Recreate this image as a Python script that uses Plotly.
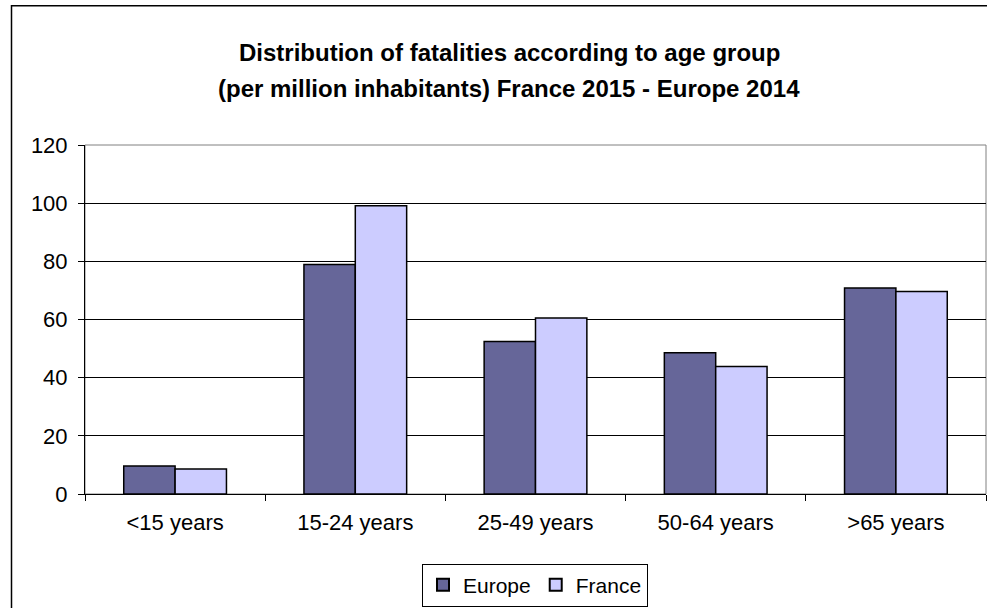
import plotly.graph_objects as go

# Fatalities per million inhabitants by age group
age_groups = ["<15 years", "15-24 years", "25-49 years", "50-64 years", ">65 years"]
europe_2014 = [9.6, 78.9, 52.4, 48.6, 70.8]
france_2015 = [8.6, 99.1, 60.5, 43.8, 69.6]
y_ticks = [0, 20, 40, 60, 80, 100, 120]

title_lines = [
    "Distribution of fatalities according to age group",
    "(per million inhabitants) France 2015 - Europe 2014",
]

W, H = 987, 608
ML, MR, MT, MB = 85, 1, 145, 112
PW, PH = W - ML - MR, H - MT - MB


def px_x(px):
    return (px - ML) / PW


def px_y(py):
    return (H - MB - py) / PH


FONT = "Arial, Liberation Sans, sans-serif"

fig = go.Figure()
fig.add_trace(go.Bar(
    x=age_groups, y=europe_2014, name="Europe",
    marker=dict(color="#666699", line=dict(color="#000000", width=1.5)),
))
fig.add_trace(go.Bar(
    x=age_groups, y=france_2015, name="France",
    marker=dict(color="#CCCCFF", line=dict(color="#000000", width=1.5)),
))

annotations = []
for line, py in zip(title_lines, [52, 88]):
    annotations.append(dict(
        text="<b>%s</b>" % line, x=px_x(509), y=px_y(py),
        xref="paper", yref="paper", xanchor="center", yanchor="middle",
        showarrow=False, font=dict(family=FONT, size=24, color="#000000"),
    ))

shapes = [
    # outer chart frame
    dict(type="rect", xref="paper", yref="paper",
         x0=px_x(11.5), x1=px_x(995), y0=px_y(5), y1=px_y(620),
         line=dict(color="#000000", width=1.5), fillcolor="rgba(0,0,0,0)",
         layer="below"),
    # plot area frame (top/right)
    dict(type="rect", xref="paper", yref="paper", x0=0, x1=1, y0=0, y1=1,
         line=dict(color="#808080", width=1), fillcolor="rgba(0,0,0,0)",
         layer="below"),
]

fig.update_layout(
    width=W, height=H,
    margin=dict(l=ML, r=MR, t=MT, b=MB, pad=0),
    paper_bgcolor="#FFFFFF", plot_bgcolor="#FFFFFF",
    barmode="group", bargap=0.43, bargroupgap=0,
    font=dict(family=FONT, size=22, color="#000000"),
    showlegend=True,
    legend=dict(
        orientation="h", x=px_x(535), y=px_y(566),
        xanchor="center", yanchor="top",
        bordercolor="#000000", borderwidth=1, bgcolor="#FFFFFF",
        font=dict(family=FONT, size=21, color="#000000"),
        itemwidth=30, tracegroupgap=0, itemsizing="constant",
    ),
    annotations=annotations,
    shapes=shapes,
)

fig.update_xaxes(
    type="category", tickson="boundaries", ticks="outside", ticklen=6,
    tickcolor="#000000", showline=True, linecolor="#000000", linewidth=1,
    showgrid=False, tickfont=dict(size=22), ticklabelstandoff=9,
)
fig.update_yaxes(
    range=[0, 120], tickvals=y_ticks, ticks="outside", ticklen=6,
    tickcolor="#000000", showline=True, linecolor="#000000", linewidth=1,
    showgrid=True, gridcolor="#000000", gridwidth=1, zeroline=False,
    tickfont=dict(size=22), ticklabelstandoff=6,
)

fig.write_html("out.html")
